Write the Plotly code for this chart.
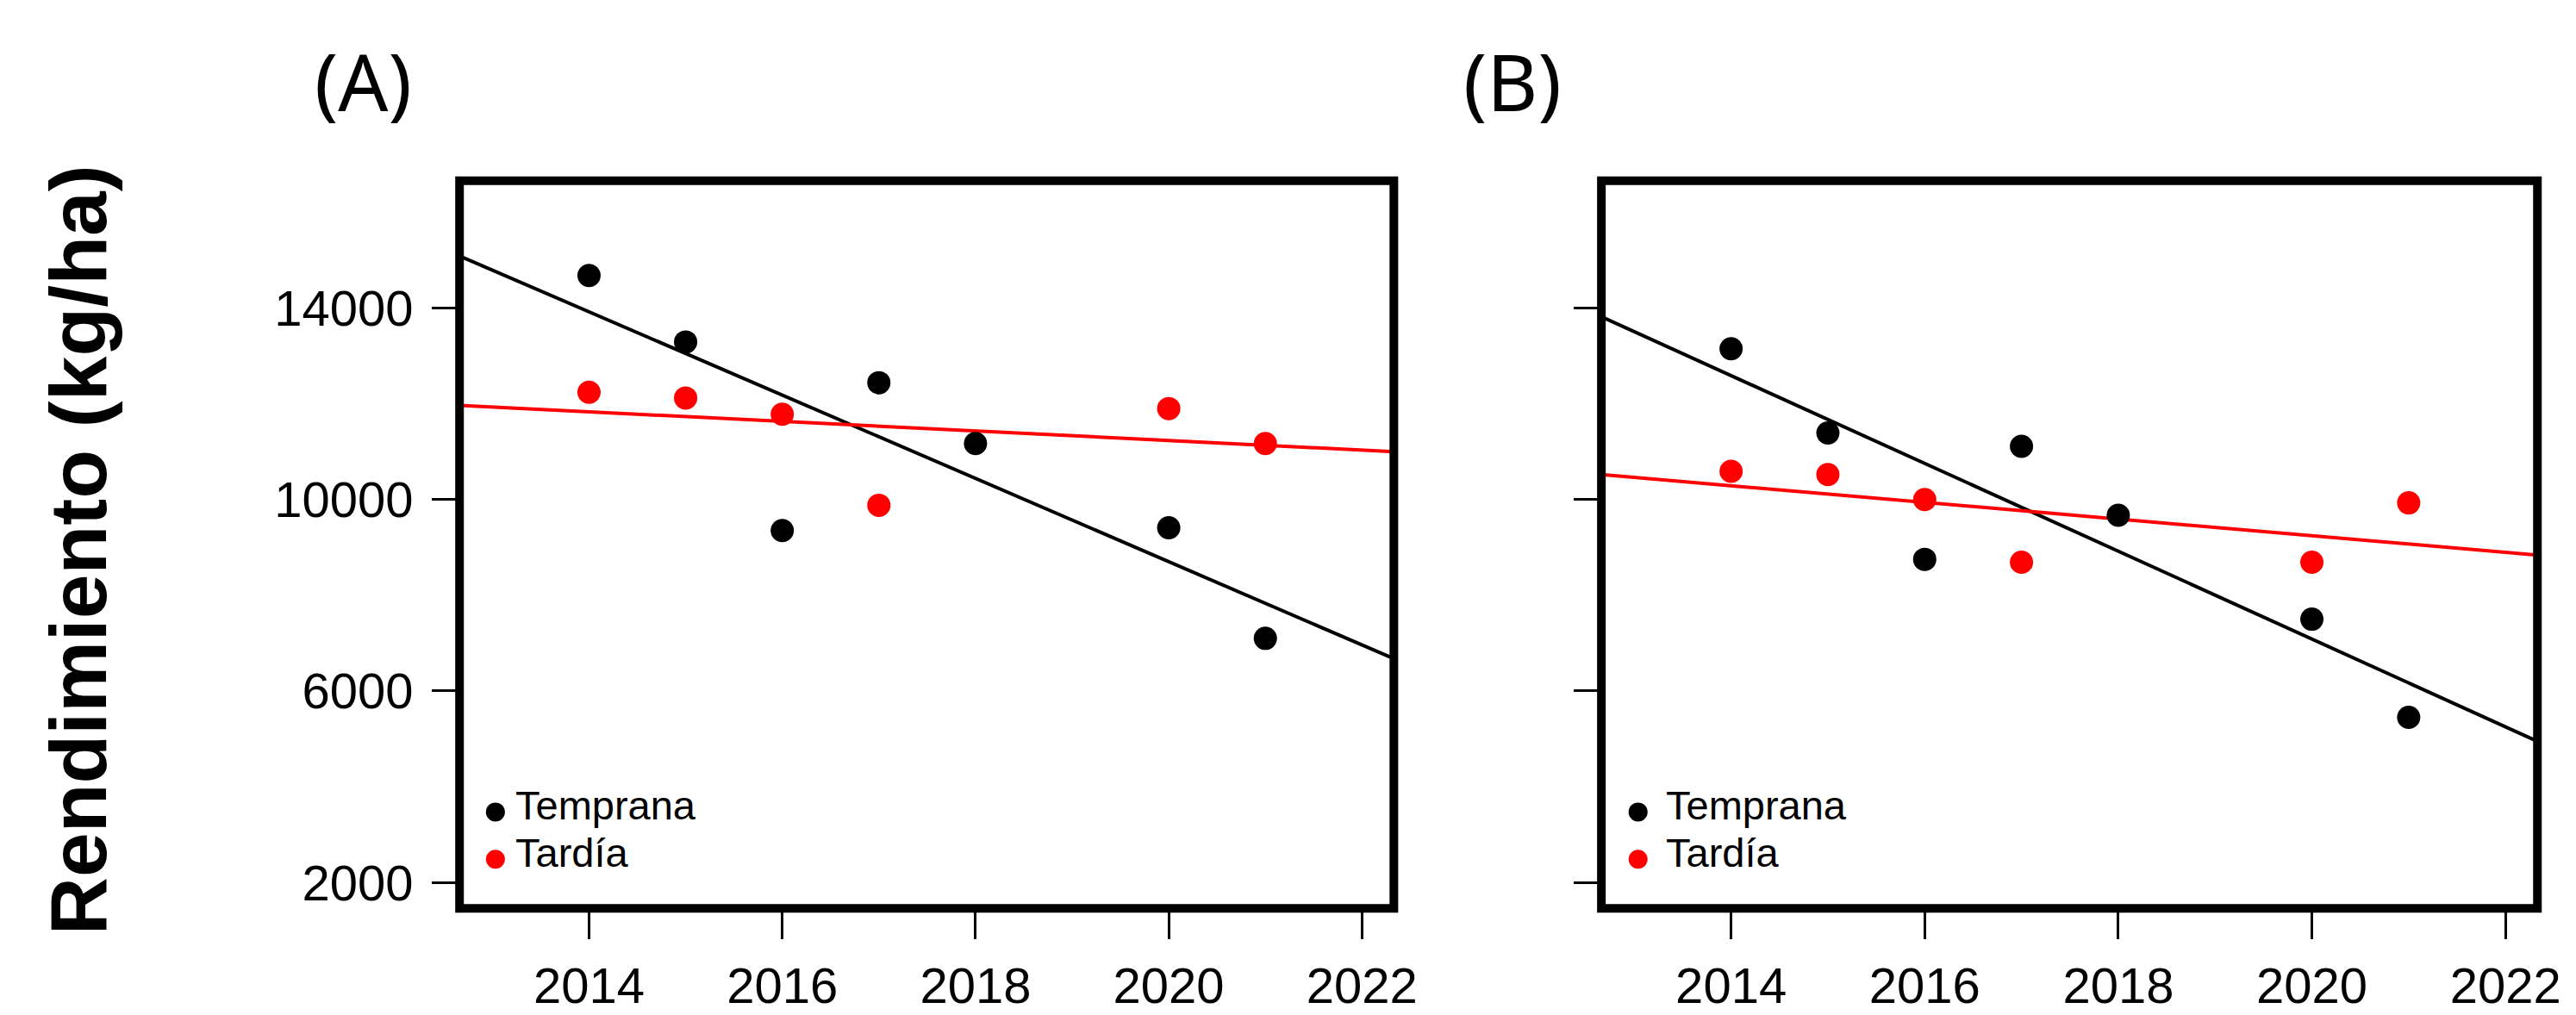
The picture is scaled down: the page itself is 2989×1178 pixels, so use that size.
import numpy as np
import plotly.graph_objects as go
from plotly.subplots import make_subplots

# ---------------- data ----------------
years_temprana = [2014, 2015, 2016, 2017, 2018, 2020, 2021]
years_tardia = [2014, 2015, 2016, 2017, 2020, 2021]

a_temprana = [14680, 13290, 9350, 12440, 11170, 9410, 7100]
a_tardia = [12240, 12120, 11780, 9880, 11900, 11170]

b_temprana = [13150, 11390, 8750, 11110, 9670, 7500, 5450]
b_tardia = [10590, 10520, 10000, 8690, 8690, 9930]

x_ticks = [2014, 2016, 2018, 2020, 2022]
y_ticks = [2000, 6000, 10000, 14000]
panel_labels = ["(A)", "(B)"]
legend_labels = ["Temprana", "Tardía"]
y_title = "Rendimiento (kg/ha)"

# ---------------- style ----------------
X_RANGE = [2012.66, 2022.33]
Y_RANGE = [1460, 16660]
W, H = 2989, 1178
BLACK = "#000000"
RED = "#ff0000"
TICK_FONT = "Liberation Sans, Arial, sans-serif"

fig = make_subplots(rows=1, cols=2)

panels = [
    (a_temprana, a_tardia, 1),
    (b_temprana, b_tardia, 2),
]

for temp, tard, col in panels:
    for yrs, vals, color in [(years_temprana, temp, BLACK), (years_tardia, tard, RED)]:
        # least-squares regression line across the whole panel (abline)
        slope, intercept = np.polyfit(yrs, vals, 1)
        xl = np.array(X_RANGE)
        fig.add_trace(
            go.Scatter(x=xl, y=slope * xl + intercept, mode="lines",
                       line=dict(color=color, width=4), showlegend=False,
                       hoverinfo="skip"),
            row=1, col=col)
    for yrs, vals, color in [(years_temprana, temp, BLACK), (years_tardia, tard, RED)]:
        fig.add_trace(
            go.Scatter(x=yrs, y=vals, mode="markers",
                       marker=dict(color=color, size=27, symbol="circle",
                                   line=dict(width=0)),
                       showlegend=False, cliponaxis=False),
            row=1, col=col)

x_domains = [[530 / W, 1624 / W], [1867 / W, 2963 / W]]
y_domain = [1 - 1048 / H, 1 - 202 / H]

for i, ax in enumerate(["", "2"]):
    fig.layout["xaxis" + ax].update(
        domain=x_domains[i], range=X_RANGE, tickvals=x_ticks,
        ticktext=[str(t) for t in x_ticks],
        ticks="outside", ticklen=35, tickwidth=2.5, tickcolor=BLACK,
        showline=False, showgrid=False, zeroline=False,
        tickfont=dict(family=TICK_FONT, size=58, color=BLACK),
        ticklabelstandoff=4)
    fig.layout["yaxis" + ax].update(
        domain=y_domain, range=Y_RANGE, tickvals=y_ticks,
        ticktext=[str(t) for t in y_ticks],
        ticks="outside", ticklen=31, tickwidth=2.5, tickcolor=BLACK,
        showline=False, showgrid=False, zeroline=False,
        showticklabels=(i == 0),
        tickfont=dict(family=TICK_FONT, size=58, color=BLACK),
        ticklabelstandoff=10)
    # box frame
    fig.add_shape(type="rect", xref="x" + ax + " domain", yref="y" + ax + " domain",
                  x0=0, x1=1, y0=0, y1=1, line=dict(color=BLACK, width=10),
                  layer="above")

# legends (inside bottom-left of each panel)
legend_pos = [
    dict(mx=0.0384, tx=0.0576),
    dict(mx=0.0392, tx=0.0675),
]
marker_y = [0.1324, 0.0674]
text_y = [0.1420, 0.0770]
for i, ax in enumerate(["", "2"]):
    for j, (lab, color) in enumerate(zip(legend_labels, [BLACK, RED])):
        fig.add_shape(type="circle", xref="x" + ax + " domain", yref="y" + ax + " domain",
                      xsizemode="pixel", ysizemode="pixel",
                      xanchor=legend_pos[i]["mx"], yanchor=marker_y[j],
                      x0=-11, x1=11, y0=-11, y1=11,
                      fillcolor=color, line=dict(width=0), layer="above")
        fig.add_annotation(text=lab, xref="x" + ax + " domain", yref="y" + ax + " domain",
                           x=legend_pos[i]["tx"], y=text_y[j], xanchor="left",
                           yanchor="middle", showarrow=False,
                           font=dict(family=TICK_FONT, size=47, color=BLACK))

# panel labels
for lab, px in zip(panel_labels, [417 / W, 1763 / W]):
    fig.add_annotation(text=lab, xref="paper", yref="paper", x=px, y=1 - 86 / H,
                       xanchor="center", yanchor="middle", showarrow=False,
                       font=dict(family="Noto Sans, Open Sans, sans-serif", size=91,
                                 color=BLACK))

# y-axis title
fig.add_annotation(text="<b>" + y_title + "</b>", xref="paper", yref="paper",
                   x=84 / W, y=1 - 631 / H, xanchor="center", yanchor="middle",
                   textangle=-90, showarrow=False,
                   font=dict(family="Liberation Sans, Arial, sans-serif",
                             size=93, color=BLACK))

fig.update_layout(width=W, height=H, margin=dict(l=0, r=0, t=0, b=0),
                  paper_bgcolor="white", plot_bgcolor="white", showlegend=False)

fig.write_html("out.html")
